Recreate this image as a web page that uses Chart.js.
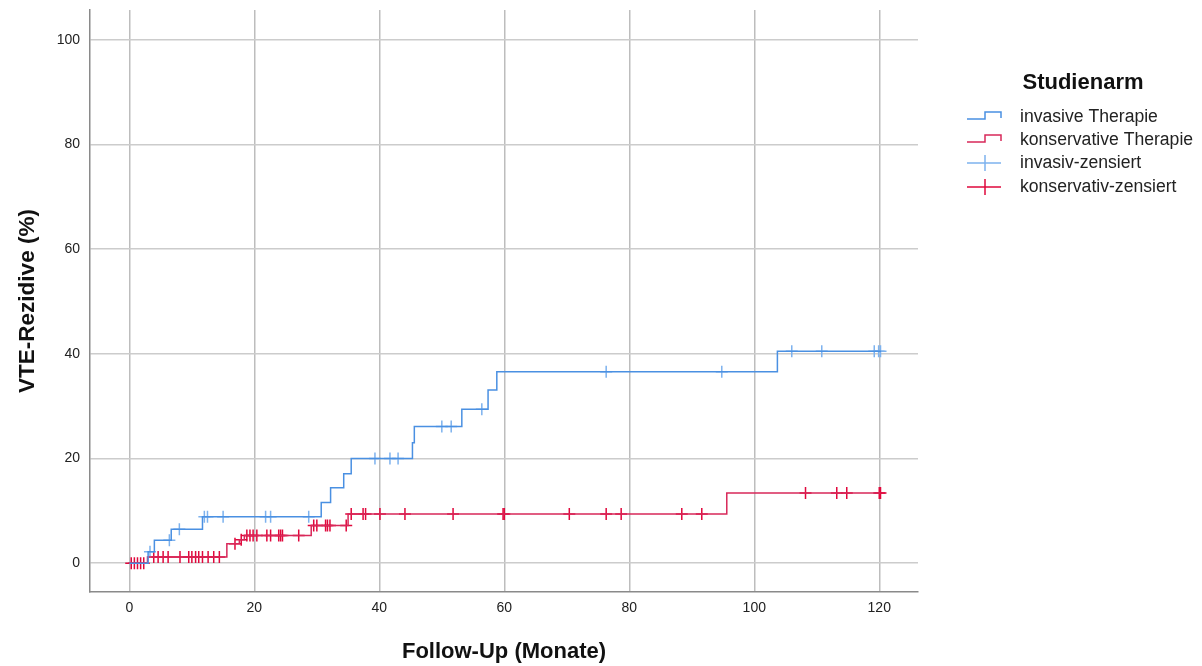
<!DOCTYPE html>
<html>
<head>
  <meta charset="utf-8">
  <title>VTE-Rezidive nach Studienarm</title>
  <script src="https://cdn.jsdelivr.net/npm/chart.js"></script>
  <style>
    body { margin: 0; background: #fff; }
    #wrap { width: 1202px; height: 666px; }
  </style>
</head>
<body>
  <div id="wrap"><canvas id="km"></canvas></div>
  <script>
    // Kaplan-Meier steps (Monate, % kumulativ)
    const invTime = [0, 3.0, 4.0, 6.7, 11.7, 30.7, 32.2, 34.3, 35.5, 45.3, 45.6, 53.2, 57.4, 58.8, 103.7, 120.3];
    const invRisk = [0, 2.2, 4.4, 6.5, 8.9, 11.6, 14.4, 17.1, 20.0, 23.0, 26.1, 29.4, 33.1, 36.6, 40.5, 40.5];
    const konTime = [0, 2.9, 15.6, 17.6, 18.4, 29.1, 35.0, 95.6, 120.2];
    const konRisk = [0, 1.2, 3.7, 4.5, 5.3, 7.2, 9.4, 13.4, 13.4];

    // zensierte Fälle
    const invCensTime = [3.3, 6.4, 8.0, 12.0, 12.5, 15.0, 21.8, 22.6, 28.7, 39.3, 41.7, 43.0, 50.0, 51.5, 56.4, 76.3, 94.8, 106.0, 110.8, 119.2, 119.9, 120.2];
    const invCensRisk = [2.2, 4.4, 6.5, 8.9, 8.9, 8.9, 8.9, 8.9, 8.9, 20.0, 20.0, 20.0, 26.1, 26.1, 29.4, 36.6, 36.6, 40.5, 40.5, 40.5, 40.5, 40.5];
    const konCensTime = [0.3, 0.8, 1.3, 1.8, 2.3,
      3.9, 4.6, 5.4, 6.2, 8.1, 9.5, 10.0, 10.6, 11.1, 11.7, 12.6, 13.5, 14.4,
      16.9, 17.9,
      18.8, 19.3, 19.8, 20.4, 22.0, 22.6, 23.9, 24.2, 24.5, 27.1,
      29.5, 30.0, 31.4, 31.7, 32.1, 34.7,
      35.5, 37.4, 37.8, 40.1, 44.1, 51.8, 59.8, 60.0, 70.4, 76.3, 78.7, 88.4, 91.6,
      108.2, 113.2, 114.8, 120.0, 120.2];
    const konCensRisk = [0, 0, 0, 0, 0,
      1.2, 1.2, 1.2, 1.2, 1.2, 1.2, 1.2, 1.2, 1.2, 1.2, 1.2, 1.2, 1.2,
      3.7, 4.5,
      5.3, 5.3, 5.3, 5.3, 5.3, 5.3, 5.3, 5.3, 5.3, 5.3,
      7.2, 7.2, 7.2, 7.2, 7.2, 7.2,
      9.4, 9.4, 9.4, 9.4, 9.4, 9.4, 9.4, 9.4, 9.4, 9.4, 9.4, 9.4, 9.4,
      13.4, 13.4, 13.4, 13.4, 13.4];

    const xTicks = [0, 20, 40, 60, 80, 100, 120];
    const yTicks = [0, 20, 40, 60, 80, 100];
    const legendTitle = 'Studienarm';
    const legendLabels = ['invasive Therapie', 'konservative Therapie', 'invasiv-zensiert', 'konservativ-zensiert'];

    const blueLine = '#4a90e2', blueCens = '#7db2ee';
    const redLine = '#d8285a', redCens = '#e0083c';

    function pts(xs, ys) {
      return xs.map((x, i) => ({ x: x, y: ys[i] }));
    }

    const sans = '"Liberation Sans", Arial, sans-serif';

    // Legende rechts, wie im SPSS-Export
    const legendPlugin = {
      id: 'kmLegend',
      afterDraw(chart) {
        const ctx = chart.ctx;
        ctx.save();
        ctx.fillStyle = '#111';
        ctx.font = 'bold 22px ' + sans;
        ctx.textAlign = 'center';
        ctx.textBaseline = 'middle';
        ctx.fillText(legendTitle, 1083, 83);

        const rows = [117, 140, 163, 187];
        const cols = [blueLine, redLine, blueCens, redCens];
        ctx.lineWidth = 1.5;
        rows.forEach((y, i) => {
          ctx.strokeStyle = cols[i];
          ctx.beginPath();
          if (i < 2) {
            ctx.moveTo(967, y + 2);
            ctx.lineTo(985, y + 2);
            ctx.lineTo(985, y - 5);
            ctx.lineTo(1001, y - 5);
            ctx.lineTo(1001, y + 1);
          } else {
            ctx.moveTo(967, y);
            ctx.lineTo(1001, y);
            ctx.moveTo(985, y - 8);
            ctx.lineTo(985, y + 8);
          }
          ctx.stroke();
          ctx.fillStyle = '#222';
          ctx.font = '17.6px ' + sans;
          ctx.textAlign = 'left';
          ctx.fillText(legendLabels[i], 1020, y);
        });
        ctx.restore();
      }
    };

    new Chart(document.getElementById('km'), {
      type: 'scatter',
      data: {
        datasets: [
          {
            label: legendLabels[0],
            data: pts(invTime, invRisk),
            showLine: true,
            stepped: 'before',
            borderColor: blueLine,
            borderWidth: 1.5,
            pointRadius: 0
          },
          {
            label: legendLabels[1],
            data: pts(konTime, konRisk),
            showLine: true,
            stepped: 'before',
            borderColor: redLine,
            borderWidth: 1.5,
            pointRadius: 0
          },
          {
            label: legendLabels[2],
            data: pts(invCensTime, invCensRisk),
            pointStyle: 'cross',
            pointRadius: 6,
            borderColor: blueCens,
            borderWidth: 1.5
          },
          {
            label: legendLabels[3],
            data: pts(konCensTime, konCensRisk),
            pointStyle: 'cross',
            pointRadius: 6,
            borderColor: redCens,
            borderWidth: 1.5
          }
        ]
      },
      options: {
        responsive: true,
        maintainAspectRatio: false,
        animation: false,
        layout: { autoPadding: false, padding: { top: 10, right: 284, left: 0, bottom: 0 } },
        plugins: {
          legend: { display: false },
          tooltip: { enabled: false }
        },
        scales: {
          x: {
            type: 'linear',
            min: -6.3,
            max: 126.2,
            afterBuildTicks: s => { s.ticks = xTicks.map(v => ({ value: v })); },
            afterFit: s => { s.height = 74; s.paddingLeft = 0; s.paddingRight = 0; },
            grid: { color: '#bdbdbd', lineWidth: 1.5, drawTicks: false },
            border: { color: '#8a8a8a', width: 1.5 },
            ticks: { padding: 8, color: '#222', font: { family: sans, size: 14 } },
            title: {
              display: true,
              text: 'Follow-Up (Monate)',
              color: '#111',
              font: { family: sans, size: 22, weight: 'bold' },
              padding: { top: 0, bottom: 1 }
            }
          },
          y: {
            type: 'linear',
            min: -5.5,
            max: 105.7,
            afterBuildTicks: s => { s.ticks = yTicks.map(v => ({ value: v })); },
            afterFit: s => { s.width = 90; s.paddingTop = 0; s.paddingBottom = 0; },
            grid: { color: '#cccccc', lineWidth: 1.5, drawTicks: false },
            border: { color: '#8a8a8a', width: 1.5 },
            ticks: { padding: 10, color: '#222', font: { family: sans, size: 14 } },
            title: {
              display: true,
              text: 'VTE-Rezidive (%)',
              color: '#111',
              font: { family: sans, size: 22.5, weight: 'bold' },
              padding: { top: 14, bottom: 0 }
            }
          }
        }
      },
      plugins: [legendPlugin]
    });
  </script>
</body>
</html>
